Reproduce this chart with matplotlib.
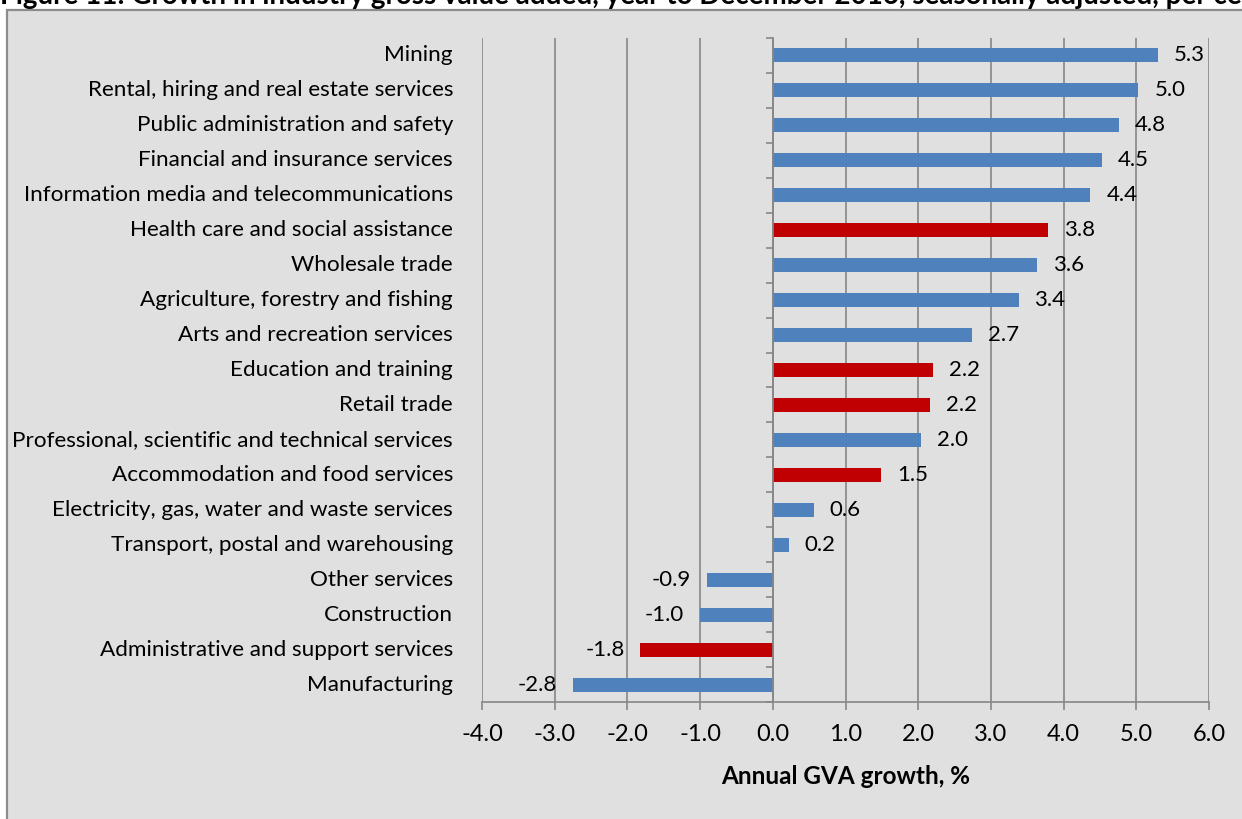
import numpy as np
import matplotlib
matplotlib.use("Agg")
import matplotlib.pyplot as plt
from matplotlib.patches import Rectangle
from matplotlib.ticker import FixedLocator
import matplotlib.transforms as mtransforms

plt.rcParams['font.family'] = ['Lato', 'DejaVu Sans']

industries = [
    "Mining",
    "Rental, hiring and real estate services",
    "Public administration and safety",
    "Financial and insurance services",
    "Information media and telecommunications",
    "Health care and social assistance",
    "Wholesale trade",
    "Agriculture, forestry and fishing",
    "Arts and recreation services",
    "Education and training",
    "Retail trade",
    "Professional, scientific and technical services",
    "Accommodation and food services",
    "Electricity, gas, water and waste services",
    "Transport, postal and warehousing",
    "Other services",
    "Construction",
    "Administrative and support services",
    "Manufacturing",
]
growth = [5.30, 5.03, 4.76, 4.53, 4.37, 3.78, 3.64, 3.38, 2.74, 2.21,
          2.16, 2.04, 1.49, 0.56, 0.22, -0.91, -1.00, -1.82, -2.75]
highlight = [False, False, False, False, False, True, False, False, False, True,
             True, False, True, False, False, False, False, True, False]
xticks = np.arange(-4, 7, 1)

blue = "#4F81BD"
red = "#C00000"
grid_col = "#868686"
bg = "#E0E0E0"

fig = plt.figure(figsize=(12.42, 8.19), dpi=100)
fig.patch.set_facecolor("white")

# chart frame
frame = Rectangle((7 / 1242, -0.05), 1.05, 1 - 10 / 819 + 0.05,
                  transform=fig.transFigure, facecolor=bg, edgecolor="#8C8C8C",
                  linewidth=1.6, zorder=-10)
fig.patches.append(frame)

fig.text(0.0, 1 - 4 / 819, "Figure 11: Growth in industry gross value added, year to "
         "December 2016, seasonally adjusted, per cent",
         ha="left", va="baseline", fontsize=20, fontweight="bold", color="black")

ax = fig.add_axes([482 / 1242, 1 - 702 / 819, (1209 - 482) / 1242, (702 - 38) / 819])
ax.set_zorder(1)
ax.patch.set_alpha(0)

y = np.arange(len(industries))
colors = [red if h else blue for h in highlight]
ax.barh(y, growth, height=0.4, color=colors, zorder=3)

ax.set_xlim(-4, 6)
ax.set_ylim(len(industries) - 0.5, -0.5)

ax.set_xticks(xticks)
ax.set_xticklabels([f"{t:.1f}" for t in xticks], fontsize=17)
for t in xticks:
    ax.axvline(t, color=grid_col, linewidth=1.2, zorder=1)

for s in ["top", "right"]:
    ax.spines[s].set_visible(False)
ax.spines["bottom"].set_color(grid_col)
ax.spines["bottom"].set_linewidth(1.2)
ax.spines["left"].set_position(("data", 0))
ax.spines["left"].set_color(grid_col)
ax.spines["left"].set_linewidth(1.2)
ax.spines["left"].set_zorder(4)
ax.tick_params(axis="x", direction="out", length=6, width=1.2, color=grid_col, pad=10)

ax.set_yticks([])
ax.yaxis.set_minor_locator(FixedLocator(np.arange(-0.5, len(industries), 1)))
ax.tick_params(axis="y", which="minor", direction="out", length=5, width=1.2,
               color=grid_col)

# category names sit left of the plot area
trans = mtransforms.blended_transform_factory(ax.transAxes, ax.transData)
for yi, name in zip(y, industries):
    ax.text(-29 / 727, yi, name, transform=trans, ha="right", va="center",
            fontsize=16.2)

# value labels
for yi, v in zip(y, growth):
    off = 11.5 if v >= 0 else -11.5
    ax.annotate(f"{v:.1f}", (v, yi), xytext=(off, 0), textcoords="offset points",
                ha="left" if v >= 0 else "right", va="center", fontsize=16,
                zorder=5)

ax.set_xlabel("Annual GVA growth, %", fontsize=17.5, fontweight="bold", labelpad=14)

fig.savefig("out.png", dpi=100)
